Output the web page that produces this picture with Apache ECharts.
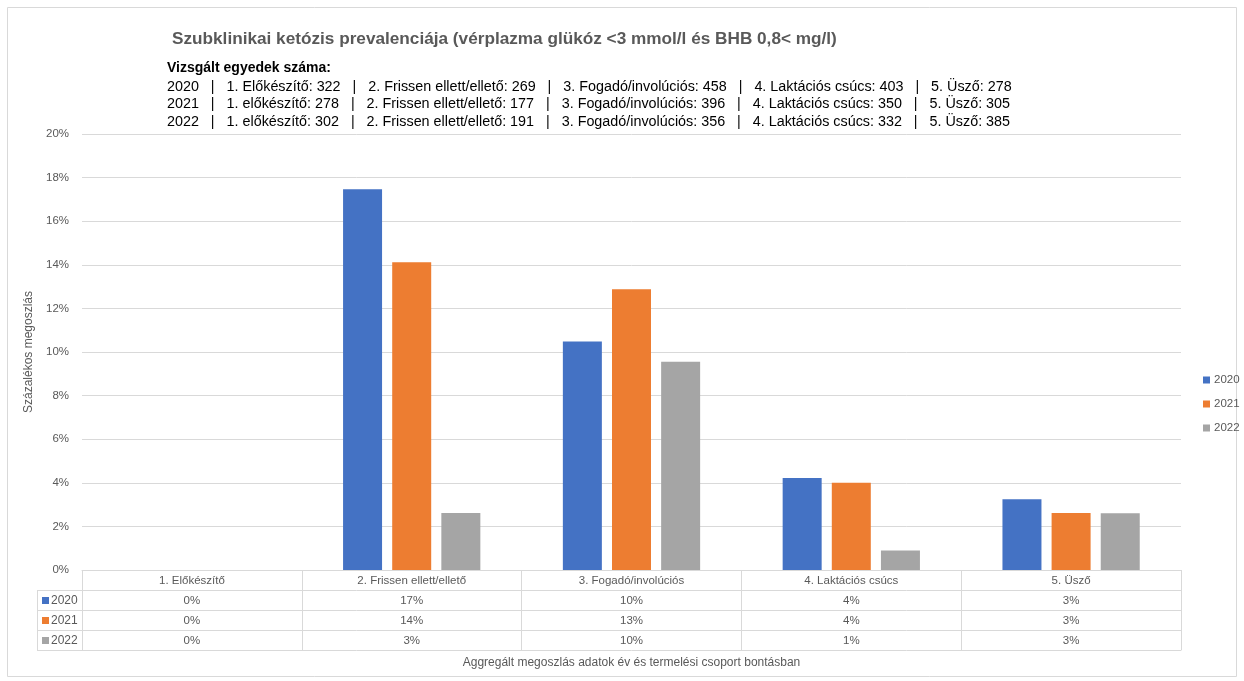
<!DOCTYPE html>
<html><head><meta charset="utf-8">
<script src="https://cdn.jsdelivr.net/npm/echarts@6/dist/echarts.min.js"></script>
<style>html,body{margin:0;padding:0;background:#fff}#c{width:1244px;height:681px}</style>
</head><body><div id="c"></div>
<script>
const categories = ['1. Előkészítő','2. Frissen ellett/ellető','3. Fogadó/involúciós','4. Laktációs csúcs','5. Üsző'];
const years = ['2020','2021','2022'];
const s2020 = [0, 17.47, 10.48, 4.22, 3.24];
const s2021 = [0, 14.12, 12.88, 4.00, 2.62];
const s2022 = [0, 2.62, 9.55, 0.90, 2.60];
const yTicks = {min: 0, max: 20, interval: 2};
const countLabels2020 = ['1. Előkészítő','2. Frissen ellett/ellető','3. Fogadó/involúciós','4. Laktációs csúcs','5. Üsző'];
const countLabelsOther = ['1. előkészítő','2. Frissen ellett/ellető','3. Fogadó/involúciós','4. Laktációs csúcs','5. Üsző'];
const n2020 = [322, 269, 458, 403, 278];
const n2021 = [278, 177, 396, 350, 305];
const n2022 = [302, 191, 356, 332, 385];
const titleText = 'Szubklinikai ketózis prevalenciája (vérplazma glükóz <3 mmol/l és BHB 0,8< mg/l)';
const countsHeader = 'Vizsgált egyedek száma:';
const yName = 'Százalékos megoszlás';
const xName = 'Aggregált megoszlás adatok év és termelési csoport bontásban';
const colors = ['#4472C4', '#ED7D31', '#A5A5A5'];

const FONT = 'Liberation Sans';
const grey = '#595959';
const lineC = '#d9d9d9';
const seriesData = [s2020, s2021, s2022];

function countLine(year, labels, nums) {
  return year + '   |   ' + labels.map((l, i) => l + ': ' + nums[i]).join('   |   ');
}
const countLines = [
  countLine(years[0], countLabels2020, n2020),
  countLine(years[1], countLabelsOther, n2021),
  countLine(years[2], countLabelsOther, n2022)
];

const chart = echarts.init(document.getElementById('c'), null, {renderer: 'canvas'});

const grid = {left: 82, right: 63, top: 134, bottom: 111, containLabel: false};

const xAxes = [{
  type: 'category', data: categories, gridIndex: 0, position: 'bottom',
  axisLine: {show: true, lineStyle: {color: lineC}},
  axisTick: {show: true, alignWithLabel: false, interval: 0, length: 80, lineStyle: {color: lineC}},
  axisLabel: {interval: 0, margin: 5, fontSize: 11.5, color: grey, fontFamily: FONT},
  name: xName, nameLocation: 'middle', nameGap: 87,
  nameTextStyle: {fontSize: 12, color: grey, fontFamily: FONT}
}];
seriesData.forEach((arr, k) => {
  xAxes.push({
    type: 'category', data: categories, gridIndex: 0, position: 'bottom', offset: 20 * (k + 1),
    axisLine: {show: true, lineStyle: {color: lineC}},
    axisTick: {show: false},
    axisLabel: {interval: 0, margin: 5, fontSize: 11.5, color: grey, fontFamily: FONT,
      formatter: (v, i) => Math.round(arr[i]) + '%'}
  });
});
xAxes.push({
  type: 'category', data: categories, gridIndex: 0, position: 'bottom', offset: 80,
  axisLine: {show: true, lineStyle: {color: lineC}},
  axisTick: {show: false}, axisLabel: {show: false}
});

const graphic = [
  {type: 'rect', shape: {x: 7.5, y: 7.5, width: 1229, height: 669}, style: {fill: 'none', stroke: lineC, lineWidth: 1}, silent: true},
  {type: 'text', left: 167, top: 61, style: {text: countsHeader, font: 'bold 14px "' + FONT + '"', fill: '#000'}}
];
countLines.forEach((t, i) => {
  graphic.push({type: 'text', left: 167, top: 80 + i * 17.5, style: {text: t, font: '14.35px "' + FONT + '"', fill: '#000'}});
});
// left column of the data table (legend keys)
[590, 610, 630, 650].forEach(y => {
  graphic.push({type: 'line', shape: {x1: 37, y1: y + 0.5, x2: 82, y2: y + 0.5}, style: {stroke: lineC, lineWidth: 1}, silent: true});
});
graphic.push({type: 'line', shape: {x1: 37.5, y1: 590, x2: 37.5, y2: 650}, style: {stroke: lineC, lineWidth: 1}, silent: true});
years.forEach((y, i) => {
  graphic.push({type: 'rect', shape: {x: 42, y: 597 + i * 20, width: 7, height: 7}, style: {fill: colors[i]}, silent: true});
  graphic.push({type: 'text', left: 51, top: 595 + i * 20, style: {text: y, font: '12px "' + FONT + '"', fill: grey}});
});

chart.setOption({
  animation: false,
  color: colors,
  textStyle: {fontFamily: FONT},
  title: {
    text: titleText, left: 167, top: 26,
    textStyle: {fontSize: 17.2, fontWeight: 'bold', color: grey, fontFamily: FONT}
  },
  legend: {
    orient: 'vertical', left: 1198, top: 369, itemWidth: 7, itemHeight: 7, itemGap: 12,
    icon: 'rect', data: years,
    textStyle: {fontSize: 11.5, color: grey, fontFamily: FONT, padding: [0, 0, 0, -1]}
  },
  grid: grid,
  xAxis: xAxes,
  yAxis: {
    type: 'value', min: yTicks.min, max: yTicks.max, interval: yTicks.interval,
    axisLine: {show: false}, axisTick: {show: false},
    splitLine: {lineStyle: {color: lineC}},
    axisLabel: {formatter: '{value}%', fontSize: 11.5, color: grey, fontFamily: FONT, margin: 13},
    name: yName, nameLocation: 'middle', nameGap: 38, nameRotate: 90,
    nameTextStyle: {fontSize: 12, color: grey, fontFamily: FONT}
  },
  series: years.map((y, k) => ({
    name: y, type: 'bar', xAxisIndex: 0, data: seriesData[k],
    barWidth: 39, barGap: '26%',
    itemStyle: {color: colors[k]}
  })),
  graphic: graphic
});
</script></body></html>
